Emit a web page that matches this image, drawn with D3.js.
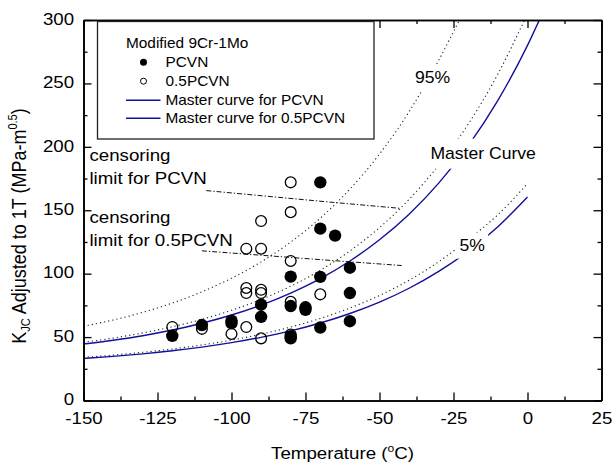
<!DOCTYPE html>
<html><head>
<meta charset="utf-8">
<script src="https://d3js.org/d3.v7.min.js"></script>
<style>
  body { margin: 0; background: #fff; }
  text { font-family: "Liberation Sans", Arial, sans-serif; fill: #000; }
</style>
</head>
<body>
<svg id="chart" width="614" height="462"></svg>
<script>
  // ---- data ----
  const tempTicks = [-150, -125, -100, -75, -50, -25, 0, 25];
  const kTicks = [0, 50, 100, 150, 200, 250, 300];

  // PCVN (filled)
  const pcvnT = [-120, -110, -100, -100, -90, -90, -80, -80, -80, -80, -75, -75, -70, -70, -70, -70, -65, -60, -60, -60];
  const pcvnK = [51, 59.5, 61, 63, 66, 75.5, 49, 50.5, 74.5, 97.7, 71.5, 73.5, 57.5, 97.5, 135.5, 172, 130, 62.5, 84.7, 104.7];

  // 0.5PCVN (open)
  const halfT = [-120, -110, -100, -95, -95, -95, -95, -90, -90, -90, -90, -90, -80, -80, -80, -80, -80, -70];
  const halfK = [58, 56.5, 52.5, 57.9, 84.7, 88.7, 119.7, 49, 84.7, 87.3, 119.7, 141.5, 52, 77.8, 110, 148.5, 172, 83.7];

  // master curve (solid blue) and its 5% bound
  const mcT = [-150, -140, -130, -120, -110, -100, -90, -80, -70, -60, -50, -40, -30, -20, -10, 0, 4];
  const mcK = [44.5, 47.5, 51.1, 55.6, 60.9, 67.4, 75.2, 84.7, 96.1, 110.0, 126.7, 146.9, 171.4, 201.0, 236.7, 280.0, 300];
  const mc5T = [-150, -140, -130, -120, -110, -100, -90, -80, -70, -60, -50, -40, -30, -20, -10, 0];
  const mc5K = [33.2, 34.8, 36.8, 39.2, 42.1, 45.6, 49.8, 54.9, 61.1, 68.6, 77.6, 88.5, 101.8, 117.7, 137.0, 160.4];

  // dotted curves (median, 95%, 5%)
  const dmT = [-150, -140, -130, -120, -110, -100, -90, -80, -70, -60, -50, -40, -30, -20, -10, -1];
  const dmK = [45.9, 49.2, 53.3, 58.1, 64.0, 71.1, 79.7, 90.1, 102.7, 117.9, 136.3, 158.6, 185.5, 218.0, 257.4, 300];
  const d95T = [-150, -140, -130, -120, -110, -100, -90, -80, -70, -60, -50, -40, -30, -23];
  const d95K = [58.5, 63.5, 69.5, 76.8, 85.7, 96.4, 109.3, 124.9, 143.8, 166.7, 194.3, 227.7, 268.2, 300];
  const d5T = [-150, -140, -130, -120, -110, -100, -90, -80, -70, -60, -50, -40, -30, -20, -10, 0];
  const d5K = [34.0, 35.8, 38.0, 40.6, 43.8, 47.6, 52.3, 57.9, 64.7, 72.9, 82.8, 94.8, 109.4, 126.9, 146.5, 171];

  // censoring limits (dash-dot)
  const cenPcvnT = [-108.5, -68.5, -43];
  const cenPcvnK = [165.5, 156.8, 151.5];
  const cenHalfT = [-110, -68.5, -42.5];
  const cenHalfK = [118, 110.8, 106.4];

  const legendTitle = "Modified 9Cr-1Mo";
  const legendLabels = ["PCVN", "0.5PCVN", "Master curve for PCVN", "Master curve for 0.5PCVN"];

  // ---- layout ----
  const svg = d3.select("svg#chart");
  const margins = {top: 20, left: 83.5, right: 12.5, bottom: 61.5};
  const chartWidth = 614 - margins.left - margins.right;
  const chartHeight = 462 - margins.top - margins.bottom;
  const SX = 1.1;  // the picture is a bit wider than tall, text included
  const blue = "#10109a";

  const x = d3.scaleLinear().domain([-150, 25]).range([0, chartWidth]);
  const y = d3.scaleLinear().domain([0, 300]).range([chartHeight, 0]);

  svg.append("defs").append("clipPath").attr("id", "plotclip")
    .append("rect").attr("width", chartWidth).attr("height", chartHeight);

  const plot = svg.append("g")
    .attr("transform", "translate(" + margins.left + "," + margins.top + ")");

  const pairs = (ts, ks) => ts.map((t, i) => [t, ks[i]]);
  const line = d3.line().x(d => x(d[0])).y(d => y(d[1])).curve(d3.curveMonotoneX);

  const curves = plot.append("g").attr("clip-path", "url(#plotclip)");

  // dotted curves
  [[d95T, d95K], [dmT, dmK], [d5T, d5K]].forEach(c => {
    curves.append("path").attr("d", line(pairs(c[0], c[1])))
      .attr("fill", "none").attr("stroke", "#222").attr("stroke-width", 1.1)
      .attr("stroke-dasharray", "1.2,3");
  });
  // solid master curves
  [[mcT, mcK], [mc5T, mc5K]].forEach(c => {
    curves.append("path").attr("d", line(pairs(c[0], c[1])))
      .attr("fill", "none").attr("stroke", blue).attr("stroke-width", 1.4);
  });
  // censoring limits
  const straight = d3.line().x(d => x(d[0])).y(d => y(d[1]));
  [[cenPcvnT, cenPcvnK], [cenHalfT, cenHalfK]].forEach(c => {
    curves.append("path").attr("d", straight(pairs(c[0], c[1])))
      .attr("fill", "none").attr("stroke", "#111").attr("stroke-width", 1)
      .attr("stroke-dasharray", "5,2,1.3,2");
  });

  // labels that sit in gaps of the curves
  function label(t, k, str, size, padX, padY) {
    const g = plot.append("g")
      .attr("transform", "translate(" + x(t) + "," + y(k) + ") scale(" + SX + ",1)");
    const r = g.append("rect").attr("fill", "#fff");
    const tx = g.append("text").attr("font-size", size).text(str);
    if (padX !== undefined) {
      const b = tx.node().getBBox();
      r.attr("x", b.x - padX).attr("y", b.y - padY)
       .attr("width", b.width + 2 * padX).attr("height", b.height + 2 * padY);
    }
    return g;
  }
  label(-38, 250, "95%", 16, 5, 5);
  label(-32.8, 190.5, "Master Curve", 16, 5, 6);
  label(-23, 118, "5%", 16, 3, 4);
  label(-148, 189, "censoring", 17);
  label(-148, 170.6, "limit for PCVN", 17);
  label(-148, 140.3, "censoring", 17);
  label(-148, 121.9, "limit for 0.5PCVN", 17);

  // ---- axes ----
  function axisStyle(g) {
    g.attr("font-family", "Liberation Sans, Arial, sans-serif").attr("font-size", 17);
    g.select(".domain").attr("stroke", "#000").attr("stroke-width", 1.6);
    g.selectAll(".tick line").attr("stroke", "#000").attr("stroke-width", 1.3);
    g.selectAll(".tick text").attr("fill", "#000").attr("transform", "scale(" + SX + ",1)");
  }
  const minorX = d3.range(-137.5, 25, 25);
  const minorY = d3.range(25, 300, 50);
  const plain = d => String(d);   // plain hyphen, not the unicode minus

  plot.append("g").attr("transform", "translate(0," + chartHeight + ")")
    .call(d3.axisBottom(x).tickValues(minorX).tickSize(-4).tickSizeOuter(0).tickFormat(""))
    .call(axisStyle);
  plot.append("g").attr("transform", "translate(0," + chartHeight + ")")
    .call(d3.axisBottom(x).tickValues(tempTicks).tickSize(-8).tickSizeOuter(0).tickPadding(11.5).tickFormat(plain))
    .call(axisStyle);
  plot.append("g")
    .call(d3.axisTop(x).tickValues(minorX).tickSize(-4).tickSizeOuter(0).tickFormat(""))
    .call(axisStyle);
  plot.append("g")
    .call(d3.axisTop(x).tickValues(tempTicks).tickSize(-8).tickSizeOuter(0).tickFormat(""))
    .call(axisStyle);
  plot.append("g")
    .call(d3.axisLeft(y).tickValues(minorY).tickSize(-4).tickSizeOuter(0).tickFormat(""))
    .call(axisStyle);
  plot.append("g")
    .call(d3.axisLeft(y).tickValues(kTicks).tickSize(-8).tickSizeOuter(0).tickPadding(8.5).tickFormat(plain))
    .call(axisStyle)
    .call(g => g.selectAll(".tick text").attr("dy", "0.25em"));
  plot.append("g").attr("transform", "translate(" + chartWidth + ",0)")
    .call(d3.axisRight(y).tickValues(minorY).tickSize(-4).tickSizeOuter(0).tickFormat(""))
    .call(axisStyle);
  plot.append("g").attr("transform", "translate(" + chartWidth + ",0)")
    .call(d3.axisRight(y).tickValues(kTicks).tickSize(-8).tickSizeOuter(0).tickFormat(""))
    .call(axisStyle);

  // axis titles
  const xt = svg.append("text")
    .attr("transform", "translate(" + (margins.left + chartWidth / 2) + ",459) scale(" + SX + ",1)")
    .attr("text-anchor", "middle").attr("font-size", 17);
  xt.append("tspan").text("Temperature (");
  xt.append("tspan").attr("font-size", 11).attr("dy", -7).text("o");
  xt.append("tspan").attr("dy", 7).text("C)");

  const yt = svg.append("text")
    .attr("transform", "translate(25.5,226) scale(" + SX + ",1) rotate(-90)")
    .attr("text-anchor", "middle").attr("font-size", 18);
  yt.append("tspan").text("K");
  yt.append("tspan").attr("font-size", 11).attr("dy", 4).text("JC");
  yt.append("tspan").attr("dy", -4).text(" Adjusted to 1T (MPa-m");
  yt.append("tspan").attr("font-size", 11).attr("dy", -8).text("0.5");
  yt.append("tspan").attr("dy", 8).text(")");

  // ---- points ----
  plot.append("g").selectAll("circle").data(pairs(halfT, halfK)).join("circle")
    .attr("cx", d => x(d[0])).attr("cy", d => y(d[1])).attr("r", 5.4)
    .attr("fill", "none").attr("stroke", "#000").attr("stroke-width", 1.3);
  plot.append("g").selectAll("circle").data(pairs(pcvnT, pcvnK)).join("circle")
    .attr("cx", d => x(d[0])).attr("cy", d => y(d[1])).attr("r", 6.2)
    .attr("fill", "#000");

  // ---- legend ----
  const leg = svg.append("g").attr("transform", "translate(97.5,21.5)");
  leg.append("rect").attr("width", 276.5).attr("height", 117.5)
    .attr("fill", "#fff").attr("stroke", "#222").attr("stroke-width", 1.3);
  leg.append("text").attr("transform", "translate(28.5,26) scale(" + SX + ",1)")
    .attr("font-size", 14).text(legendTitle);
  const rows = [45.5, 64.5, 83.5, 101.5];
  legendLabels.forEach((s, i) => {
    leg.append("text").attr("transform", "translate(68,"  + rows[i] + ") scale(" + SX + ",1)")
      .attr("font-size", 14).text(s);
  });
  leg.append("circle").attr("cx", 46).attr("cy", rows[0] - 4.8).attr("r", 3.5).attr("fill", "#000");
  leg.append("circle").attr("cx", 46).attr("cy", rows[1] - 4.8).attr("r", 3)
    .attr("fill", "none").attr("stroke", "#000").attr("stroke-width", 1);
  [rows[2], rows[3]].forEach(r => {
    leg.append("line").attr("x1", 28.5).attr("x2", 63).attr("y1", r - 4.8).attr("y2", r - 4.8)
      .attr("stroke", blue).attr("stroke-width", 1.4);
  });
</script>
</body>
</html>
